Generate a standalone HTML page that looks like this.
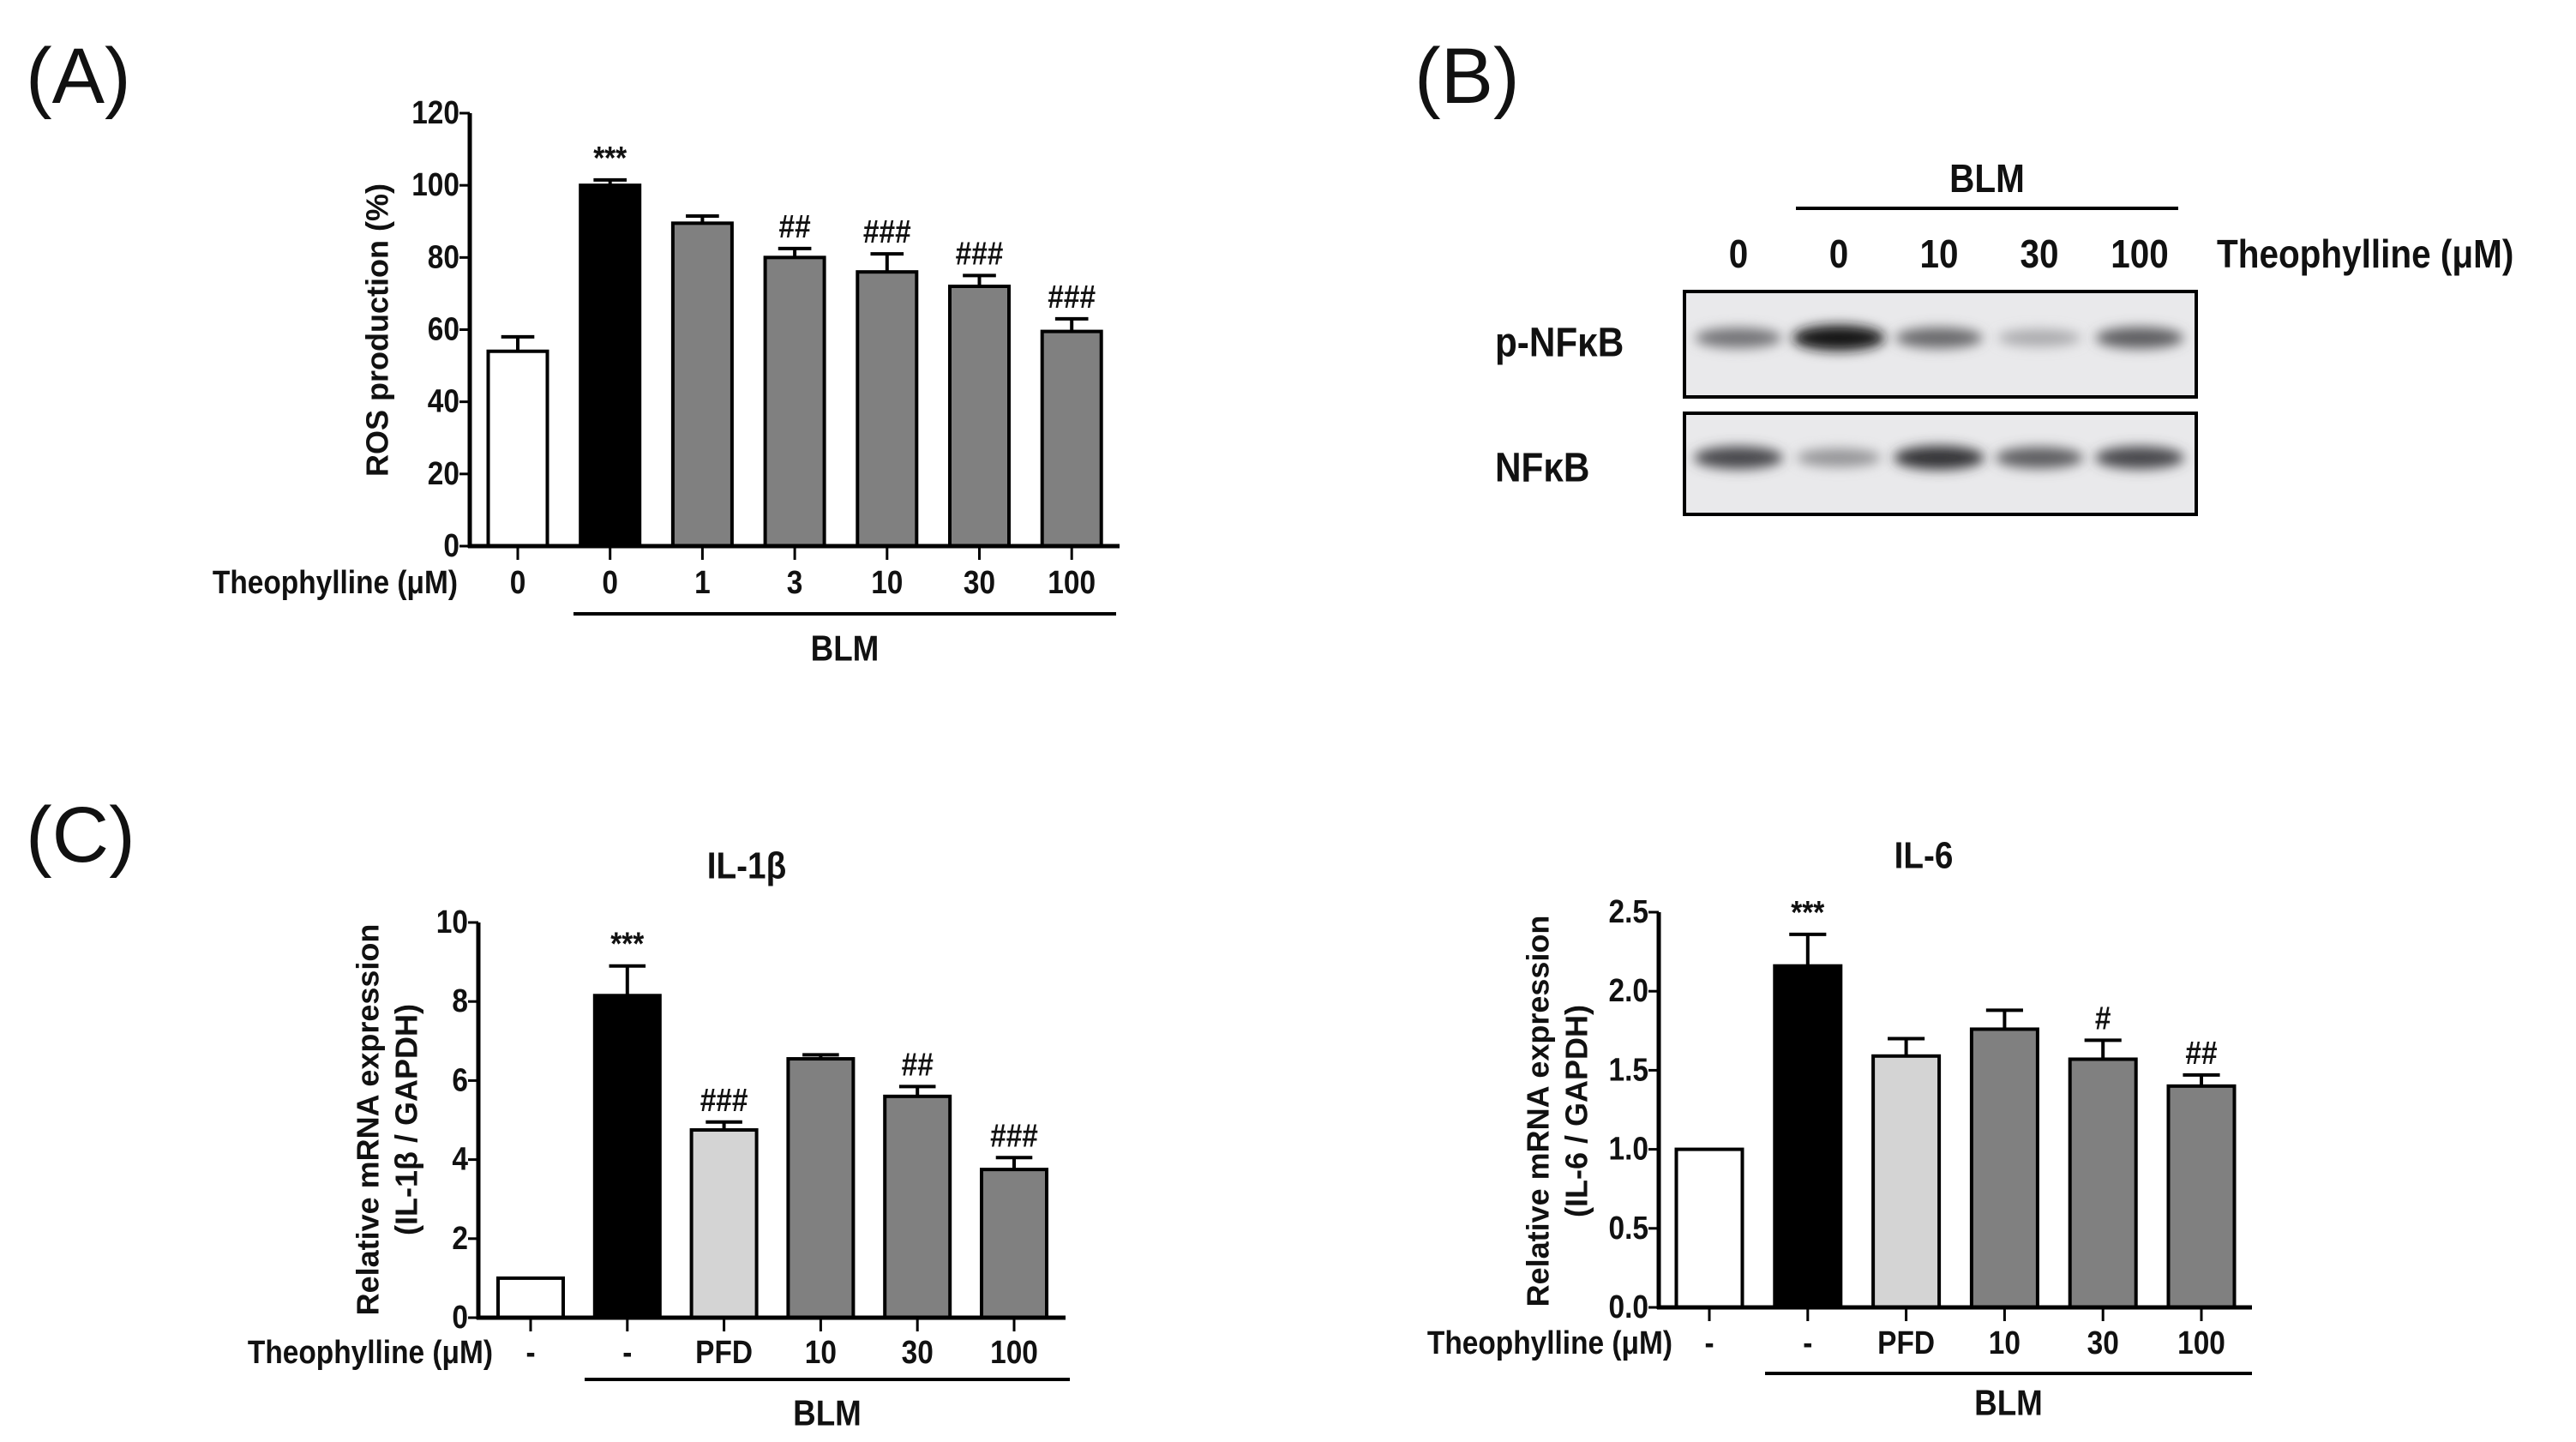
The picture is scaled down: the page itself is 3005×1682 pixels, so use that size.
<!DOCTYPE html>
<html><head><meta charset="utf-8"><style>
html,body{margin:0;padding:0;background:#fff;}
svg{display:block;}
text{font-family:"Liberation Sans Narrow","Liberation Sans",sans-serif;font-weight:bold;fill:#111;}
.plabel{font-family:"Liberation Sans",sans-serif;font-weight:normal;font-size:92px;}
.ylab{font-family:"Liberation Sans",sans-serif;font-weight:bold;font-size:36px;}
</style></head><body>
<svg id="fig" width="3005" height="1682" viewBox="0 0 3005 1682" xmlns="http://www.w3.org/2000/svg">
<defs><filter id="blur" x="-50%" y="-200%" width="200%" height="500%"><feGaussianBlur stdDeviation="7"/></filter></defs>
<text class="plabel" x="30" y="120">(A)</text>
<text class="plabel" x="1650" y="120">(B)</text>
<text class="plabel" x="30" y="1005">(C)</text>
<g id="blot"></g>
</svg>
<script>
// Panel A data
const aCats = ["0","0","1","3","10","30","100"];
const aVals = [54,100,89.5,80,76,72,59.5];
const aErr = [58,101.5,91.5,82.5,81,75,63];
const aSig = ["","***","","##","###","###","###"];
const aTicks = [0,20,40,60,80,100,120];
// Panel C IL-1b data
const cCats = ["-","-","PFD","10","30","100"];
const cVals = [1.0,8.15,4.75,6.55,5.6,3.75];
const cErr = [1.0,8.9,4.95,6.65,5.85,4.05];
const cSig = ["","***","###","","##","###"];
const cTicks = [0,2,4,6,8,10];
// Panel C IL-6 data
const dCats = ["-","-","PFD","10","30","100"];
const dVals = [1.0,2.16,1.59,1.76,1.57,1.40];
const dErr = [1.0,2.36,1.70,1.88,1.69,1.47];
const dSig = ["","***","","","#","##"];
const dTicks = ["0.0","0.5","1.0","1.5","2.0","2.5"];
// Blot data (relative band intensity)
const blotLanes = ["0","0","10","30","100"];
const pBands = [0.55,1.0,0.6,0.3,0.65];
const tBands = [0.75,0.4,0.85,0.65,0.75];

const NS="http://www.w3.org/2000/svg";
const svg=document.getElementById('fig');
const narrow=[];
function mk(tag,attrs,parent){const e=document.createElementNS(NS,tag);for(const k in attrs)e.setAttribute(k,attrs[k]);(parent||svg).appendChild(e);return e;}
function txt(s,x,y,size,anchor,parent){const t=mk('text',{x:x,y:y,'font-size':size,'text-anchor':anchor||'middle','dominant-baseline':'central'},parent);t.textContent=s;narrow.push(t);return t;}

function chart(o){
  const g=mk('g',{});
  
  
  const ymax=parseFloat(o.ticks[o.ticks.length-1]);
  const Y=v=>o.y0-(v/ymax)*(o.y0-o.yTop);
  const X=i=>o.x0c+i*o.step;
  o.vals.forEach((v,i)=>{
    const fill=o.fills[i];
    const e=o.err[i];
    if(e>v){
      const l=mk('line',{x1:X(i),x2:X(i),y1:Y(v),y2:Y(e),stroke:'#000','stroke-width':4},g);
      
      
      const c=mk('line',{x1:X(i)-o.bw*0.28,x2:X(i)+o.bw*0.28,y1:Y(e),y2:Y(e),stroke:'#000','stroke-width':4},g);
      
      
    }
    const r=mk('rect',{x:X(i)-o.bw/2,y:Y(v),width:o.bw,height:o.y0-Y(v),fill:fill,stroke:'#000','stroke-width':4},g);
    
    
    if(o.sig[i]){const s=txt(o.sig[i],X(i),Y(e)-25,38,'middle',g);
      
      }
    const tk=mk('line',{x1:X(i),x2:X(i),y1:o.y0,y2:o.y0+16,stroke:'#000','stroke-width':3},g);
    
    
    const lb=txt(o.cats[i],X(i),o.labY,o.fs,'middle',g);
    
    
  });
  const ya=mk('line',{x1:o.ax,x2:o.ax,y1:o.yTop,y2:o.y0+2,stroke:'#000','stroke-width':5},g);
  
  
  const xa=mk('line',{x1:o.ax-2,x2:o.xEnd,y1:o.y0,y2:o.y0,stroke:'#000','stroke-width':5},g);
  
  
  o.ticks.forEach(t=>{
    const v=parseFloat(t);
    const l=mk('line',{x1:o.ax-12,x2:o.ax,y1:Y(v),y2:Y(v),stroke:'#000','stroke-width':3},g);
    
    
    const s=txt(String(t),o.ax-12,Y(v),o.fs,'end',g);
    
    
  });
  const th=txt('Theophylline (μM)',o.thX,o.labY,o.fs,'end',g);
  
  
  const bl=mk('line',{x1:o.blmX1,x2:o.blmX2,y1:o.blmY,y2:o.blmY,stroke:'#000','stroke-width':4},g);
  
  
  const bt=txt('BLM',(o.blmX1+o.blmX2)/2,o.blmTY,o.fs*1.1,'middle',g);
  
  
  o.ylab.forEach((s,k)=>{
    const t=mk('text',{class:'ylab',x:0,y:0,'text-anchor':'middle','dominant-baseline':'central',transform:`translate(${o.ylabX[k]},${o.ylabY}) rotate(-90)`},g);
    t.textContent=s;
    
    
  });
  if(o.title){const t=txt(o.title,o.titleX,o.titleY,44,'middle',g);
    
    }
}
const W='#fff',K='#000',L='#d4d4d4',G='#808080';
chart({name:'ros-chart',cats:aCats,vals:aVals,err:aErr,sig:aSig,ticks:aTicks,fills:[W,K,G,G,G,G,G],
  ax:548,y0:637,yTop:132,x0c:604,step:107.7,bw:69,xEnd:1306,labY:680,fs:38,thX:534,
  blmX1:669,blmX2:1302,blmY:716,blmTY:756,ylab:['ROS production (%)'],ylabX:[440],ylabY:385});
chart({name:'il1b-chart',cats:cCats,vals:cVals,err:cErr,sig:cSig,ticks:cTicks,fills:[W,K,L,G,G,G],
  ax:558,y0:1537,yTop:1076,x0c:619,step:112.8,bw:76,xEnd:1243,labY:1578,fs:38,thX:575,
  blmX1:682,blmX2:1248,blmY:1609,blmTY:1648,ylab:['Relative mRNA expression','(IL-1β / GAPDH)'],ylabX:[429,474],ylabY:1306,
  title:'IL-1β',titleX:871,titleY:1010});
chart({name:'il6-chart',cats:dCats,vals:dVals,err:dErr,sig:dSig,ticks:dTicks,fills:[W,K,L,G,G,G],
  ax:1935,y0:1525,yTop:1064,x0c:1994,step:114.8,bw:77,xEnd:2627,labY:1567,fs:38,thX:1951,
  blmX1:2059,blmX2:2627,blmY:1602,blmTY:1636,ylab:['Relative mRNA expression','(IL-6 / GAPDH)'],ylabX:[1794,1839],ylabY:1296,
  title:'IL-6',titleX:2244,titleY:998});

const bg=document.getElementById('blot');
const laneX=[2028,2145,2262,2379,2496];
blotLanes.forEach((s,i)=>{const t=txt(s,laneX[i],296,46,'middle',bg);
  
  });
{const t=txt('Theophylline (μM)',2586,296,46,'start',bg);
 
 
 const b=txt('BLM',2318,208,46,'middle',bg);
 
 
 const l=mk('line',{x1:2095,x2:2541,y1:243,y2:243,stroke:'#000','stroke-width':4},bg);
 
 }
function panel(y1,y2,vals,name,label,labY){
  const g=mk('g',{},bg);
  
  
  mk('rect',{x:1965,y:y1,width:597,height:y2-y1,fill:'#e9e9eb'},g);
  const mid=y1+(y2-y1)*0.44;
  vals.forEach((v,i)=>{
    const c=Math.round(235-215*v);
    const e=mk('ellipse',{cx:laneX[i],cy:mid,rx:46+8*v,ry:8+7*v,fill:`rgb(${c},${c},${c+3})`,filter:'url(#blur)'},g);
    
    
  });
  mk('rect',{x:1965,y:y1,width:597,height:y2-y1,fill:'none',stroke:'#000','stroke-width':4},g);
  const t=txt(label,1744,labY,48,'start',bg);
  
  
}
panel(340,463,pBands,'p-nfkb-blot','p-NFκB',400);
panel(482,600,tBands,'nfkb-blot','NFκB',546);

// condense text to mimic narrow bold font
narrow.forEach(t=>{
  try{const w=t.getComputedTextLength();
    if(w>0){t.setAttribute('textLength',(w*0.88).toFixed(1));t.setAttribute('lengthAdjust','spacingAndGlyphs');}
  }catch(e){}
});
</script>
</body></html>
